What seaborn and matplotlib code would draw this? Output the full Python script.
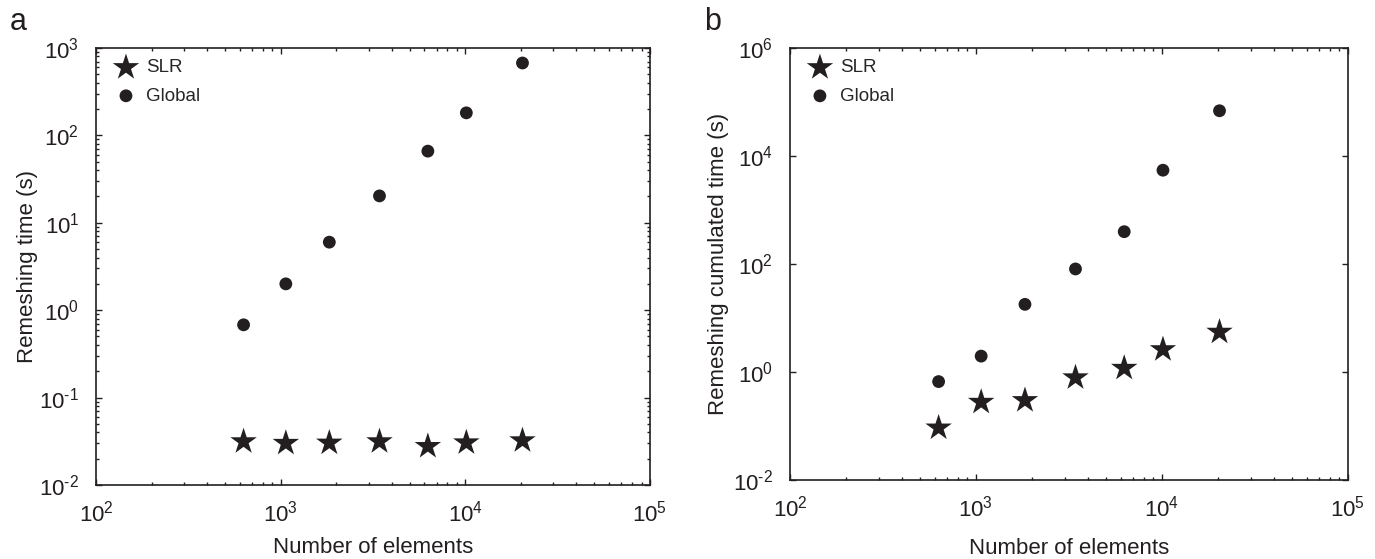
"""Remeshing time vs number of elements: SLR vs global remeshing (log-log)"""

import math

import matplotlib
matplotlib.use("Agg")
import matplotlib.pyplot as plt
import matplotlib.ticker as mticker
import pandas as pd
import seaborn as sns

# values
n_elements = [630, 1067, 1835, 3430, 6270, 10130, 20400]
slr_time = [0.0314, 0.0301, 0.0303, 0.0314, 0.0277, 0.0305, 0.0322]
global_time = [0.68, 2.0, 6.0, 20.3, 66, 181, 673]
slr_cumul = [0.0925, 0.277, 0.298, 0.787, 1.18, 2.61, 5.5]
global_cumul = [0.665, 1.97, 17.9, 81, 397, 5460, 68900]

INK = "#231f20"

sns.set_theme(style="white")
plt.rcParams["font.family"] = ["Liberation Sans", "DejaVu Sans"]
plt.rcParams["mathtext.fontset"] = "custom"
plt.rcParams["mathtext.rm"] = "Liberation Sans"
plt.rcParams["mathtext.it"] = "Liberation Sans:italic"
plt.rcParams["mathtext.default"] = "regular"
plt.rcParams["axes.unicode_minus"] = False

df_a = pd.DataFrame({"n": n_elements, "SLR": slr_time, "Global": global_time})
df_b = pd.DataFrame({"n": n_elements, "SLR": slr_cumul, "Global": global_cumul})


def log_fmt(v, pos):
    e = round(math.log10(v))
    if e < 0:
        # plain hyphen like the original figure, not a math minus
        return r"$10^{\text{-}%d}$" % -e
    return r"$10^{%d}$" % e


def style_axis(ax, ylim, ymajor, yminor):
    ax.set_xscale("log")
    ax.set_yscale("log")
    ax.set_xlim(1e2, 1e5)
    ax.set_ylim(*ylim)
    ax.xaxis.set_major_locator(mticker.LogLocator(base=10, numticks=10))
    ax.xaxis.set_minor_locator(mticker.LogLocator(base=10, subs=range(2, 10), numticks=20))
    ax.yaxis.set_major_locator(mticker.FixedLocator(ymajor))
    if yminor:
        ax.yaxis.set_minor_locator(mticker.LogLocator(base=10, subs=range(2, 10), numticks=20))
    else:
        ax.yaxis.set_minor_locator(mticker.NullLocator())
    ax.xaxis.set_major_formatter(mticker.FuncFormatter(log_fmt))
    ax.yaxis.set_major_formatter(mticker.FuncFormatter(log_fmt))
    ax.xaxis.set_minor_formatter(mticker.NullFormatter())
    ax.yaxis.set_minor_formatter(mticker.NullFormatter())
    ax.tick_params(which="both", direction="in", top=True, right=True,
                   bottom=True, left=True, colors=INK, labelcolor=INK,
                   labelsize=16, width=1.0)
    ax.tick_params(which="major", length=4.5)
    ax.tick_params(which="minor", length=2.5)
    ax.tick_params(axis="x", which="major", pad=11)
    ax.tick_params(axis="y", which="major", pad=12)
    for sp in ax.spines.values():
        sp.set_visible(True)
        sp.set_color(INK)
        sp.set_linewidth(1.2)


def draw(ax, df):
    sns.scatterplot(data=df, x="n", y="SLR", ax=ax, marker="*", s=400,
                    color=INK, edgecolor="none", label="SLR")
    sns.scatterplot(data=df, x="n", y="Global", ax=ax, marker="o", s=85,
                    color=INK, edgecolor="none", label="Global")
    ax.legend(loc="upper left", frameon=False, fontsize=13.5, handletextpad=0.05,
              borderaxespad=0.2, labelspacing=0.6, scatterpoints=1,
              borderpad=0.4)


fig = plt.figure(figsize=(13.75, 5.59), dpi=100)
ax_a = fig.add_axes([0.0698, 0.1324, 0.4029, 0.7818])
ax_b = fig.add_axes([0.5745, 0.1413, 0.4058, 0.7728])

draw(ax_a, df_a)
style_axis(ax_a, (1e-2, 1e3), [1e-2, 1e-1, 1e0, 1e1, 1e2, 1e3], True)
ax_a.set_xlabel("Number of elements", fontsize=16, color=INK, labelpad=8)
ax_a.set_ylabel("Remeshing time (s)", fontsize=16, color=INK, labelpad=1)

draw(ax_b, df_b)
style_axis(ax_b, (1e-2, 1e6), [1e-2, 1e0, 1e2, 1e4, 1e6], False)
ax_b.set_xlabel("Number of elements", fontsize=16, color=INK, labelpad=12)
ax_b.set_ylabel("Remeshing cumulated time (s)", fontsize=16, color=INK, labelpad=3)

fig.text(0.007, 0.96, "a", fontsize=22, color=INK, va="center")
fig.text(0.512, 0.96, "b", fontsize=22, color=INK, va="center")

fig.savefig("out.png", dpi=100)
